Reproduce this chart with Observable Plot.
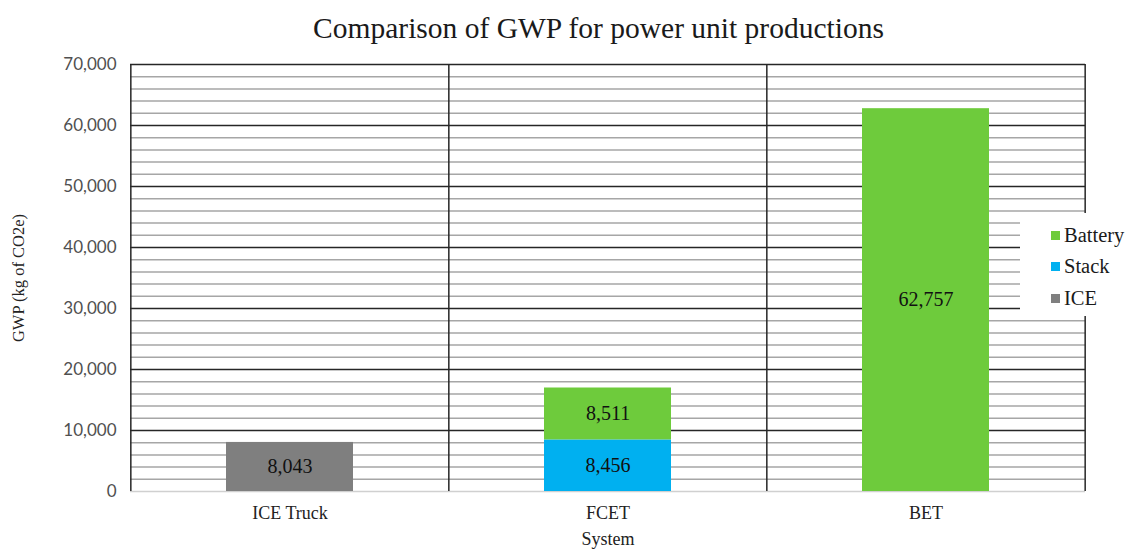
<!DOCTYPE html>
<html><head><meta charset="utf-8">
<script src="https://cdn.jsdelivr.net/npm/d3@7"></script>
<script src="https://cdn.jsdelivr.net/npm/@observablehq/plot@0.6"></script>
<style>
body{margin:0;background:#fff;}
#wrap{position:relative;width:1129px;height:549px;overflow:hidden;}
#title{height:52px;font-family:"Liberation Serif","Times New Roman",Times,serif;font-size:29.5px;color:#1a1a1a;text-align:center;padding-left:68px;box-sizing:border-box;line-height:56px;}
#legend{position:absolute;left:1020px;top:213px;width:109px;height:103px;background:#fff;font-family:"Liberation Serif","Times New Roman",Times,serif;font-size:20.5px;color:#1a1a1a;}
.item{position:absolute;left:31px;height:28px;display:flex;align-items:center;white-space:nowrap;}
.sw{width:9px;height:9px;margin-right:4px;flex:none;}
</style></head>
<body><div id="wrap"><div id="title"></div><div id="chart"></div><div id="legend"></div></div>
<script>
const title = "Comparison of GWP for power unit productions";
const systems = ["ICE Truck", "FCET", "BET"];
const components = ["ICE", "Stack", "Battery"];
const componentColors = ["#7f7f7f", "#00b0f0", "#6ecb3c"];
const iceValues = [8043, 0, 0];
const stackValues = [0, 8456, 0];
const batteryValues = [0, 8511, 62757];
const yTicks = [0, 10000, 20000, 30000, 40000, 50000, 60000, 70000];
const yLabel = "GWP (kg of CO2e)";
const xLabel = "System";
const legendOrder = ["Battery", "Stack", "ICE"];

const seriesByComponent = {ICE: iceValues, Stack: stackValues, Battery: batteryValues};
const rows = [];
systems.forEach((s, i) => components.forEach(c => {
  const v = seriesByComponent[c][i];
  if (v > 0) rows.push({system: s, component: c, value: v});
}));

document.getElementById("title").textContent = title;

const W = 1129, H = 497;
const mL = 130, mR = 44, mT = 12, mB = 58;
const step = (W - mL - mR) / systems.length;
const minorTicks = d3.range(0, 70001, 2000).filter(v => v % 10000 !== 0);
const majorTicks = yTicks.filter(v => v > 0);
const serif = "'Liberation Serif', 'Times New Roman', Times, serif";
const fmt = d3.format(",");

const chart = Plot.plot({
  width: W, height: H,
  marginLeft: mL, marginRight: mR, marginTop: mT, marginBottom: mB,
  x: {domain: systems, paddingInner: 0.6, paddingOuter: 0.3, axis: null},
  y: {domain: [0, 70000], axis: null},
  color: {domain: components, range: componentColors},
  marks: [
    Plot.ruleY(minorTicks, {stroke: "#a6a6a6", strokeWidth: 1.5}),
    Plot.ruleY([0], {stroke: "#d0d0d0", strokeWidth: 1.5}),
    Plot.ruleY(majorTicks, {stroke: "#262626", strokeWidth: 1.5}),
    Plot.ruleX(systems, {x: d => d, dx: -step / 2, stroke: "#262626", strokeWidth: 1.5}),
    Plot.ruleX(systems.slice(-1), {x: d => d, dx: step / 2, stroke: "#262626", strokeWidth: 1.5}),
    Plot.barY(rows, {x: "system", y: "value", fill: "component", order: components}),
    Plot.text(rows, Plot.stackY({x: "system", y: "value", z: "component", order: components,
      text: d => fmt(d.value), fontFamily: serif, fontSize: 20, fill: "#111"})),
    Plot.axisY(yTicks, {tickSize: 0, tickPadding: 14, tickFormat: fmt, fontFamily: "Lato", fontSize: 17, color: "#505050", label: null}),
    Plot.axisY({ticks: [], label: yLabel, labelAnchor: "center", labelArrow: "none", labelOffset: 118, fontFamily: serif, fontSize: 16.5, color: "#222"}),
    Plot.axisX({tickSize: 0, tickPadding: 15, fontFamily: serif, fontSize: 18, color: "#222", label: xLabel, labelAnchor: "center", labelArrow: "none", labelOffset: 53})
  ],
  style: {background: "#fff", overflow: "visible"}
});
document.getElementById("chart").appendChild(chart);

const leg = document.getElementById("legend");
legendOrder.forEach((c, i) => {
  const it = document.createElement("div");
  it.className = "item";
  it.style.top = (8 + i * 31.5) + "px";
  const sw = document.createElement("span");
  sw.className = "sw";
  sw.style.background = componentColors[components.indexOf(c)];
  it.appendChild(sw);
  it.appendChild(document.createTextNode(c));
  leg.appendChild(it);
});
</script>
</body></html>
